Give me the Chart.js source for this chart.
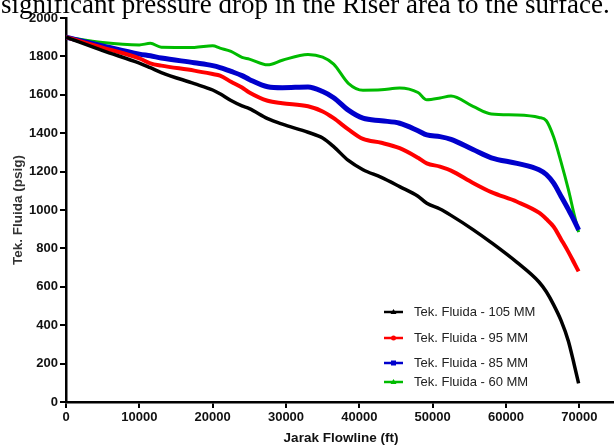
<!DOCTYPE html>
<html>
<head>
<meta charset="utf-8">
<script src="https://cdn.jsdelivr.net/npm/chart.js@4/dist/chart.umd.min.js"></script>
<style>
  html, body { margin: 0; padding: 0; background: #fff; width: 614px; height: 446px; overflow: hidden; }
  #wrap { position: relative; width: 614px; height: 446px; overflow: hidden; }
  #cap { position: absolute; left: 1px; top: -9px; font-family: "Liberation Serif", "Times New Roman", serif;
         font-size: 27px; line-height: 27px; color: #000; white-space: nowrap; z-index: 2; }
  canvas { position: absolute; left: 0; top: 0; }
</style>
</head>
<body>
<div id="wrap">
  <div id="cap">significant pressure drop in the Riser area to the surface.</div>
  <canvas id="c" width="616" height="446"></canvas>
</div>
<script>
// Distance along flowline (ft)
const distance = [0, 5000, 10000, 11500, 13000, 17500, 20000, 21000, 22500, 24000, 25000, 27500, 29500, 33000, 35000, 36500, 38500, 40500, 43000, 45500, 48000, 49200, 51000, 52500, 55500, 58000, 61500, 64500, 65500, 66500, 67500, 68500, 69300, 69900];

// Fluid pressure (psig) per rate
const p105 = [1900, 1830, 1765, 1741, 1716, 1658, 1625, 1605, 1570, 1542, 1528, 1476, 1447, 1405, 1375, 1330, 1258, 1210, 1170, 1122, 1072, 1035, 1005, 972, 898, 830, 727, 625, 574, 506, 425, 318, 195, 97];
const p95  = [1900, 1845, 1790, 1764, 1752, 1726, 1708, 1700, 1668, 1638, 1612, 1569, 1556, 1540, 1513, 1478, 1420, 1370, 1350, 1322, 1272, 1243, 1226, 1205, 1141, 1093, 1043, 986, 953, 913, 848, 782, 724, 680];
const p85  = [1900, 1855, 1812, 1803, 1792, 1767, 1752, 1742, 1722, 1700, 1680, 1642, 1637, 1641, 1617, 1585, 1520, 1478, 1465, 1452, 1413, 1391, 1382, 1368, 1315, 1272, 1243, 1210, 1185, 1140, 1072, 1003, 945, 896];
const p60  = [1900, 1872, 1860, 1868, 1848, 1847, 1855, 1843, 1826, 1795, 1786, 1756, 1780, 1810, 1796, 1760, 1660, 1624, 1626, 1636, 1612, 1574, 1583, 1594, 1540, 1500, 1495, 1482, 1465, 1380, 1251, 1107, 976, 885];

const seriesLabels = ["Tek. Fluida - 105 MM", "Tek. Fluida - 95 MM", "Tek. Fluida - 85 MM", "Tek. Fluida - 60 MM"];
const xTicks = [0, 10000, 20000, 30000, 40000, 50000, 60000, 70000];
const yTicks = [0, 200, 400, 600, 800, 1000, 1200, 1400, 1600, 1800, 2000];

const colors = ["#000000", "#ff0000", "#0000cc", "#00bb00"];
const widths = [3.5, 4, 5, 3];
const markers = ["triangle", "circle", "rect", "triangle"];
const values = [p105, p95, p85, p60];

const datasets = values.map((arr, i) => ({
  label: seriesLabels[i],
  data: distance.map((d, j) => ({ x: d, y: arr[j] })),
  borderColor: colors[i],
  backgroundColor: colors[i],
  borderWidth: widths[i],
  pointRadius: 0,
  cubicInterpolationMode: 'monotone',
  fill: false
}));

const legendPlugin = {
  id: 'customLegend',
  afterDraw(chart) {
    const ctx = chart.ctx;
    const rowsY = [312, 338, 363, 382];
    const lx0 = 384, lx1 = 403, tx = 414;
    ctx.save();
    ctx.font = '13px "Liberation Sans", Arial, sans-serif';
    ctx.textBaseline = 'middle';
    ctx.textAlign = 'left';
    seriesLabels.forEach((lab, i) => {
      const y = rowsY[i];
      ctx.strokeStyle = colors[i];
      ctx.lineWidth = 2.5;
      ctx.beginPath(); ctx.moveTo(lx0, y); ctx.lineTo(lx1, y); ctx.stroke();
      ctx.fillStyle = colors[i];
      const cx = (lx0 + lx1) / 2;
      ctx.beginPath();
      if (markers[i] === 'circle') { ctx.arc(cx, y, 2.5, 0, Math.PI * 2); }
      else if (markers[i] === 'rect') { ctx.rect(cx - 2.5, y - 2.5, 5, 5); }
      else { ctx.moveTo(cx, y - 3); ctx.lineTo(cx + 3, y + 2); ctx.lineTo(cx - 3, y + 2); ctx.closePath(); }
      ctx.fill();
      ctx.fillStyle = '#222';
      ctx.fillText(lab, tx, y);
    });
    ctx.restore();
  }
};

new Chart(document.getElementById('c'), {
  type: 'line',
  data: { datasets },
  options: {
    responsive: false,
    animation: false,
    layout: { padding: { top: 18, left: 0, right: 0, bottom: 0 } },
    plugins: { legend: { display: false }, tooltip: { enabled: false } },
    scales: {
      x: {
        type: 'linear',
        min: 0, max: 75000,
        afterBuildTicks: (s) => { s.ticks = xTicks.map(v => ({ value: v })); },
        afterFit: (s) => { s.height = 44; },
        ticks: {
          color: '#111',
          font: { family: '"Liberation Sans", Arial, sans-serif', size: 13, weight: 'bold' },
          padding: 2, maxRotation: 0, autoSkip: false,
          callback: (v) => String(v)
        },
        grid: { drawOnChartArea: false, drawTicks: true, tickLength: 6, color: '#000', lineWidth: 2 },
        border: { display: true, color: '#000', width: 2.5 },
        title: {
          display: true, text: 'Jarak Flowline (ft)', color: '#111',
          font: { family: '"Liberation Sans", Arial, sans-serif', size: 13.5, weight: 'bold' },
          padding: { top: 4, bottom: 0 }
        }
      },
      y: {
        type: 'linear',
        min: 0, max: 2000,
        afterBuildTicks: (s) => { s.ticks = yTicks.map(v => ({ value: v })); },
        afterFit: (s) => { s.width = 66; },
        ticks: {
          color: '#111',
          font: { family: '"Liberation Sans", Arial, sans-serif', size: 13, weight: 'bold' },
          padding: 2, autoSkip: false,
          callback: (v) => String(v)
        },
        grid: { drawOnChartArea: false, drawTicks: true, tickLength: 6, color: '#000', lineWidth: 2 },
        border: { display: true, color: '#000', width: 2.5 },
        title: {
          display: true, text: 'Tek. Fluida (psig)', color: '#333',
          font: { family: '"Liberation Sans", Arial, sans-serif', size: 13.5, weight: 'bold' },
          padding: { top: 10, bottom: 0 }
        }
      }
    }
  },
  plugins: [legendPlugin]
});
</script>
</body>
</html>
